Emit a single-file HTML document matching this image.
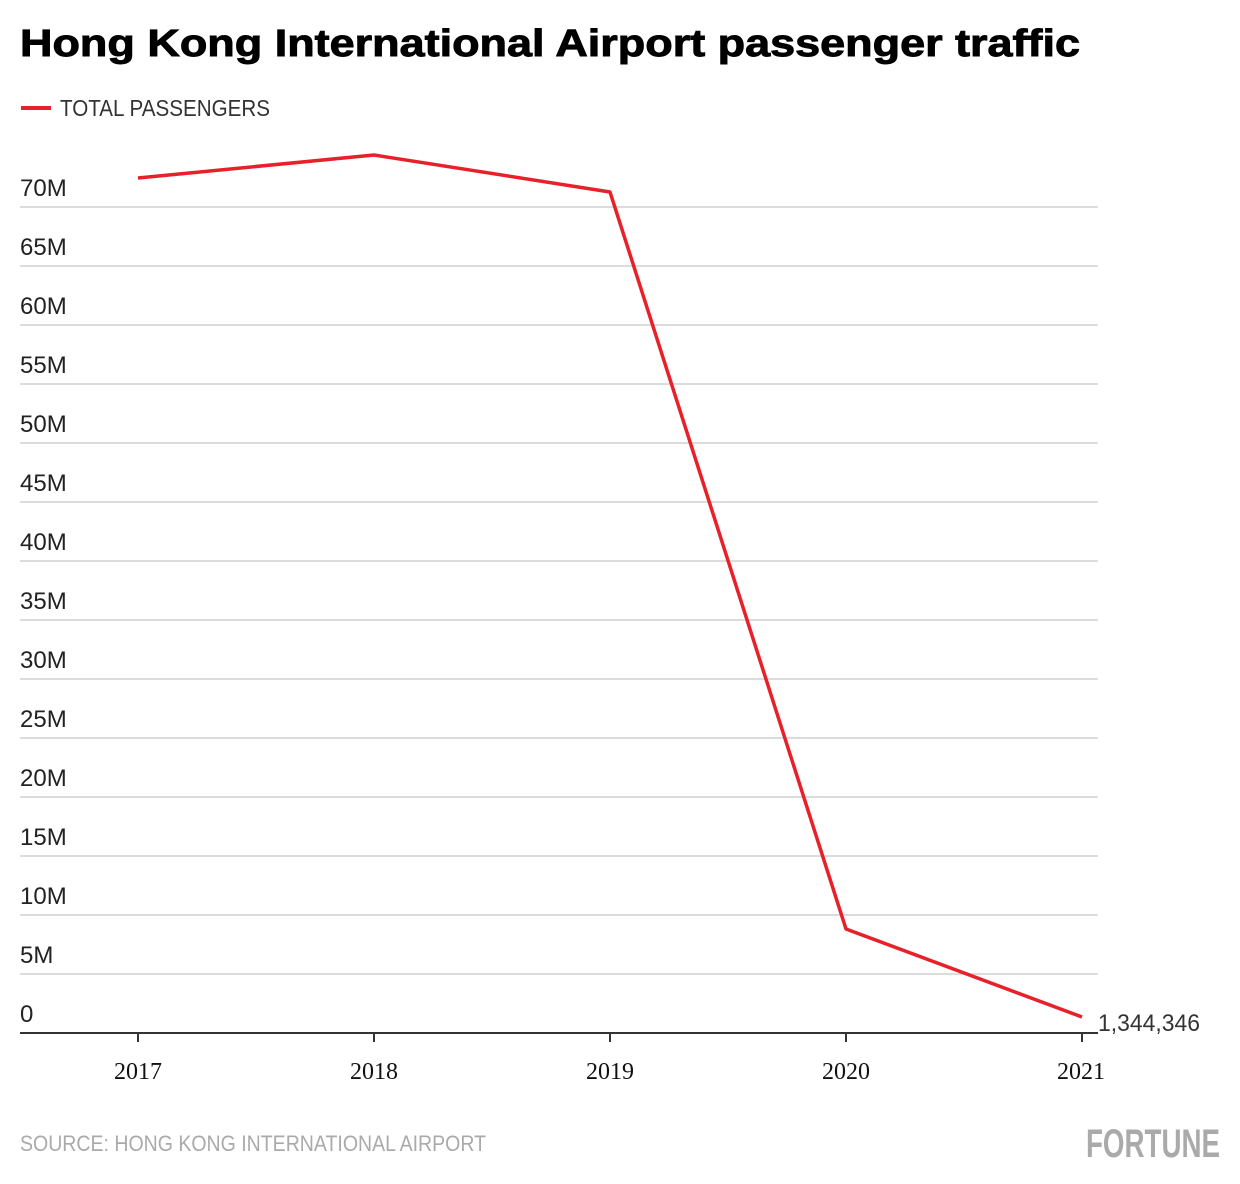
<!DOCTYPE html>
<html><head><meta charset="utf-8"><style>
html,body{margin:0;padding:0;background:#fff;}
svg{display:block;}
.c{font-family:"Liberation Sans Narrow","Liberation Sans",sans-serif;}
</style></head><body>
<svg width="1240" height="1184" viewBox="0 0 1240 1184" xmlns="http://www.w3.org/2000/svg">
<text x="20" y="56" font-family="Liberation Sans, sans-serif" font-weight="bold" font-size="38" fill="#000" stroke="#000" stroke-width="0.9" textLength="1060" lengthAdjust="spacingAndGlyphs">Hong Kong International Airport passenger traffic</text>
<line x1="21" y1="108" x2="51" y2="108" stroke="#e8202a" stroke-width="4"/>
<text x="60" y="116" class="c" font-size="23" fill="#333" textLength="210" lengthAdjust="spacingAndGlyphs">TOTAL PASSENGERS</text>
<g stroke="#d0d0d0" stroke-width="1.5">
<line x1="20" y1="207" x2="1098" y2="207"/><line x1="20" y1="266" x2="1098" y2="266"/><line x1="20" y1="325" x2="1098" y2="325"/><line x1="20" y1="384" x2="1098" y2="384"/><line x1="20" y1="443" x2="1098" y2="443"/><line x1="20" y1="502" x2="1098" y2="502"/><line x1="20" y1="561" x2="1098" y2="561"/><line x1="20" y1="620" x2="1098" y2="620"/><line x1="20" y1="679" x2="1098" y2="679"/><line x1="20" y1="738" x2="1098" y2="738"/><line x1="20" y1="797" x2="1098" y2="797"/><line x1="20" y1="856" x2="1098" y2="856"/><line x1="20" y1="915" x2="1098" y2="915"/><line x1="20" y1="974" x2="1098" y2="974"/>
</g>
<g class="c" font-size="24" fill="#222">
<text x="20" y="196">70M</text><text x="20" y="255">65M</text><text x="20" y="314">60M</text><text x="20" y="373">55M</text><text x="20" y="432">50M</text><text x="20" y="491">45M</text><text x="20" y="550">40M</text><text x="20" y="609">35M</text><text x="20" y="668">30M</text><text x="20" y="727">25M</text><text x="20" y="786">20M</text><text x="20" y="845">15M</text><text x="20" y="904">10M</text><text x="20" y="963">5M</text><text x="20" y="1022">0</text>
</g>
<line x1="20" y1="1033" x2="1098" y2="1033" stroke="#333" stroke-width="2"/>
<g stroke="#333" stroke-width="2">
<line x1="138" y1="1033" x2="138" y2="1042"/><line x1="374" y1="1033" x2="374" y2="1042"/><line x1="610" y1="1033" x2="610" y2="1042"/><line x1="846" y1="1033" x2="846" y2="1042"/><line x1="1082" y1="1033" x2="1082" y2="1042"/>
</g>
<g font-family="Liberation Serif, serif" font-size="24" fill="#111" text-anchor="middle">
<text x="138" y="1079">2017</text><text x="374" y="1079">2018</text><text x="610" y="1079">2019</text><text x="846" y="1079">2020</text><text x="1081" y="1079">2021</text>
</g>
<polyline points="138,178 374,155 610,192 846,929 1082,1017" fill="none" stroke="#e8202a" stroke-width="3.5" stroke-linejoin="round"/>
<text x="1098" y="1031" class="c" font-size="24" fill="#333" textLength="102" lengthAdjust="spacingAndGlyphs">1,344,346</text>
<text x="20" y="1151" class="c" font-size="22" fill="#aaa" textLength="466" lengthAdjust="spacingAndGlyphs">SOURCE: HONG KONG INTERNATIONAL AIRPORT</text>
<text x="1086" y="1157" class="c" font-weight="bold" font-size="40" fill="#aaa" textLength="134" lengthAdjust="spacingAndGlyphs">FORTUNE</text>
</svg>
</body></html>
